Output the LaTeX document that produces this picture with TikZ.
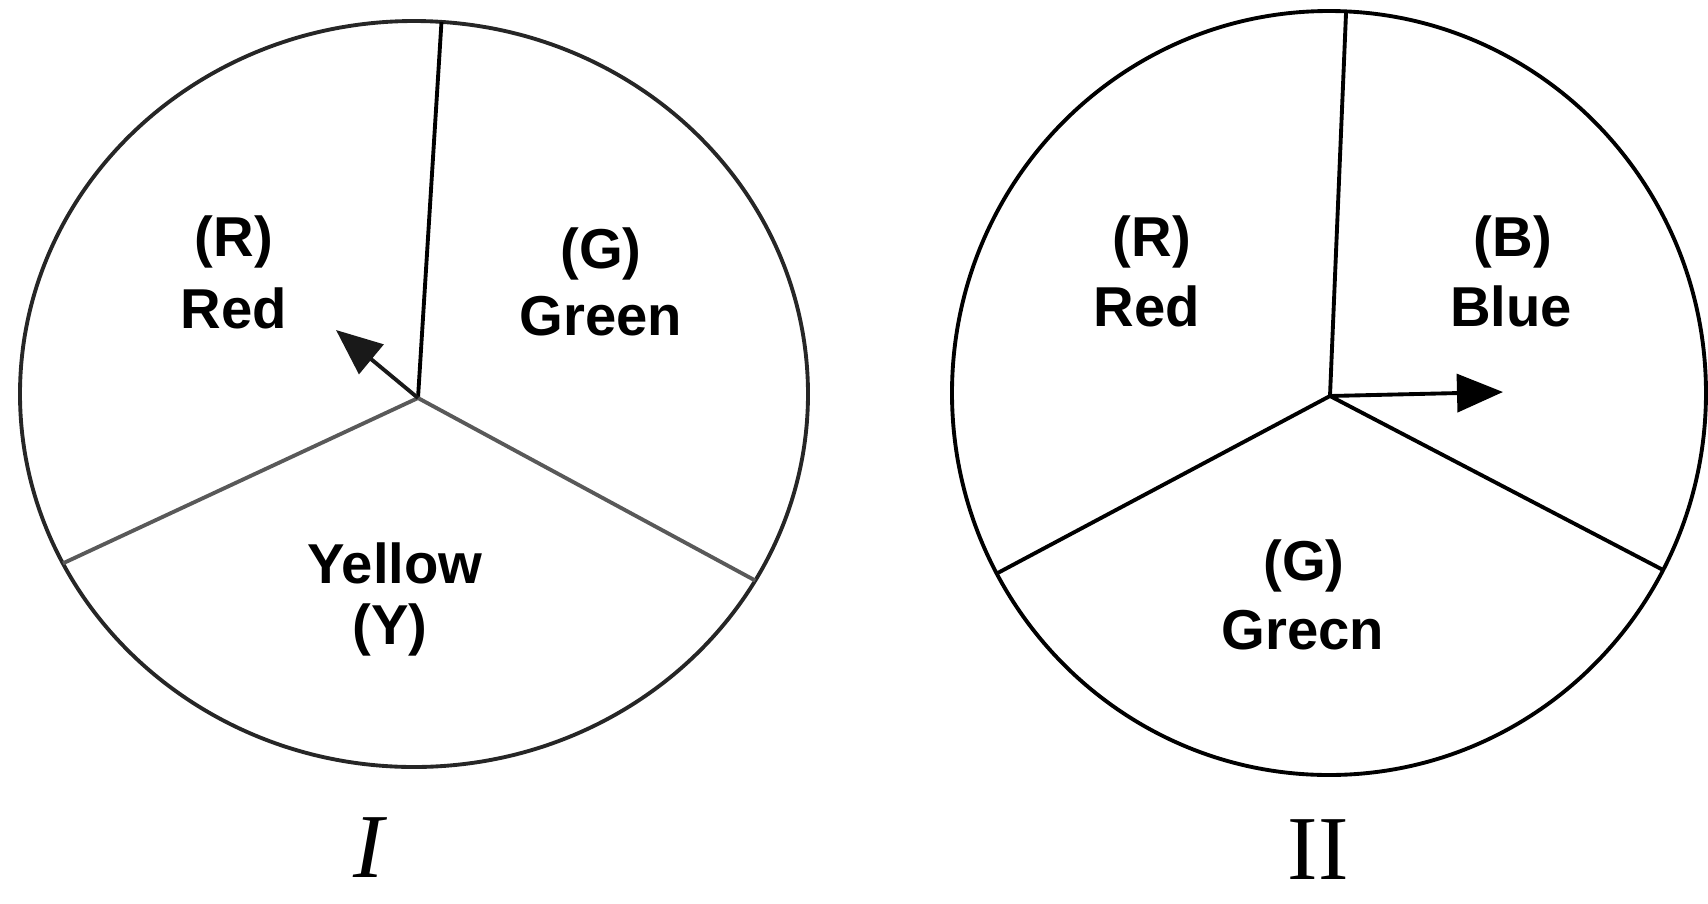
\documentclass[tikz,border=0pt]{standalone}
\usepackage{fontspec}
\setmainfont{Liberation Serif}
\setsansfont{Liberation Sans}
\usetikzlibrary{arrows.meta,calc}
\begin{document}
\begin{tikzpicture}[
  rim/.style={line width=1.1pt},
  spoke/.style={line width=1.1pt},
  lbl/.style={font=\sffamily\bfseries\fontsize{16}{18}\selectfont, inner sep=0pt},
  num/.style={font=\fontsize{26}{30}\selectfont, inner sep=0pt},
  pointer/.style={line width=1.1pt, -{Triangle[length=0.46cm,width=0.38cm]}},
]
\useasboundingbox (0,0) rectangle (17.08,-9.03);

% ---------- Wheel I ----------
\coordinate (c1) at (4.14,-3.94);
\coordinate (h1) at (4.18,-3.98);
\coordinate (t1) at ($(c1)+(86:3.94 and 3.73)$);
\coordinate (l1) at ($(c1)+(207:3.94 and 3.73)$);
\coordinate (r1) at ($(c1)+(330:3.94 and 3.73)$);
\coordinate (a1) at (3.36,-3.30);
\draw[rim, black!85] (c1) ellipse [x radius=3.94, y radius=3.73];
\draw[spoke] (h1) -- (t1);
\draw[spoke, black!65] (h1) -- (l1);
\draw[spoke, black!65] (h1) -- (r1);
\draw[pointer, black!90] (h1) -- (a1);

\node[lbl] (rI)  at (2.34,-2.42) {(R)};
\node[lbl] (redI) at (2.34,-3.08) {Red};
\node[lbl] (gI)  at (6.01,-2.54) {(G)};
\node[lbl] (greenI) at (6.01,-3.16) {Green};
\node[lbl] (yellowI) at (3.95,-5.63) {Yellow};
\node[lbl] (yI)  at (3.90,-6.30) {(Y)};
\node[num] (numI) at (3.70,-8.48) {\textit{I}};

% ---------- Wheel II ----------
\coordinate (c2) at (13.29,-3.93);
\coordinate (h2) at (13.30,-3.96);
\coordinate (t2) at ($(c2)+(87.4:3.77 and 3.82)$);
\coordinate (l2) at ($(c2)+(208.2:3.77 and 3.82)$);
\coordinate (r2) at ($(c2)+(332.4:3.77 and 3.82)$);
\coordinate (a2) at (15.03,-3.92);
\draw[rim] (c2) ellipse [x radius=3.77, y radius=3.82];
\draw[spoke] (h2) -- (t2);
\draw[spoke] (h2) -- (l2);
\draw[spoke] (h2) -- (r2);
\draw[pointer] (h2) -- (a2);

\node[lbl] (rII)  at (11.52,-2.42) {(R)};
\node[lbl] (redII) at (11.47,-3.06) {Red};
\node[lbl] (bII)  at (15.13,-2.42) {(B)};
\node[lbl] (blueII) at (15.11,-3.06) {Blue};
\node[lbl] (gII)  at (13.04,-5.66) {(G)};
\node[lbl] (greenII) at (13.03,-6.30) {Grecn};
\node[num] (numII) at (13.18,-8.50) {II};
\end{tikzpicture}
\end{document}
